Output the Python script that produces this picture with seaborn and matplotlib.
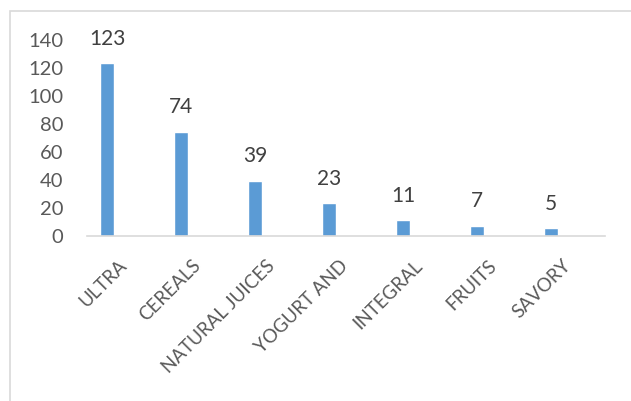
import matplotlib
matplotlib.use("Agg")
import matplotlib.pyplot as plt
import seaborn as sns
import pandas as pd
from matplotlib.patches import Rectangle

categories = ["ULTRA", "CEREALS", "NATURAL JUICES", "YOGURT AND", "INTEGRAL", "FRUITS", "SAVORY"]
values = [123, 74, 39, 23, 11, 7, 5]
yticks = [0, 20, 40, 60, 80, 100, 120, 140]

sns.set_theme(style="white")
plt.rcParams['font.family'] = ['Lato', 'DejaVu Sans']

df = pd.DataFrame({"cat": categories, "val": values})

fig = plt.figure(figsize=(6.31, 4.02), dpi=100)
fig.patch.set_facecolor("white")
x0, x1, y0, y1 = 87, 605, 236.5, 40
ax = fig.add_axes([x0/631, 1-y0/402, (x1-x0)/631, (y0-y1)/402])

sns.barplot(data=df, x="cat", y="val", color="#5B9BD5", width=0.19, saturation=1, ax=ax)

# first category at px 107, spacing 74 px
ax.set_xlim((x0-107)/74, (x1-107)/74)
ax.set_ylim(0, 140)
ax.set_yticks(yticks)
ax.set_xlabel("")
ax.set_ylabel("")
for s in ["top", "right", "left"]:
    ax.spines[s].set_visible(False)
ax.spines["bottom"].set_color("#D9D9D9")
ax.spines["bottom"].set_linewidth(1.2)
ax.tick_params(axis="y", length=0, pad=17, labelsize=14.5, labelcolor="#595959")
ax.tick_params(axis="x", length=0, labelbottom=False)

# rotated category labels placed under each category position
for i, c in enumerate(categories):
    ax.annotate(c, xy=(i, 0), xycoords=("data", "axes fraction"),
                xytext=(12, -19), textcoords="offset points",
                rotation=45, rotation_mode="anchor", ha="right", va="center",
                fontsize=13.5, color="#595959")

for i, v in enumerate(values):
    ax.annotate(str(v), xy=(i, v), xytext=(0, 11), textcoords="offset points",
                ha="center", va="bottom", fontsize=15, color="#404040")

fig.patches.append(Rectangle((10/631, -0.1), 1.2, 1 - 12/402 + 0.1, transform=fig.transFigure,
                             fill=False, edgecolor="#D9D9D9", linewidth=1.2))

fig.savefig("out.png", dpi=100)
